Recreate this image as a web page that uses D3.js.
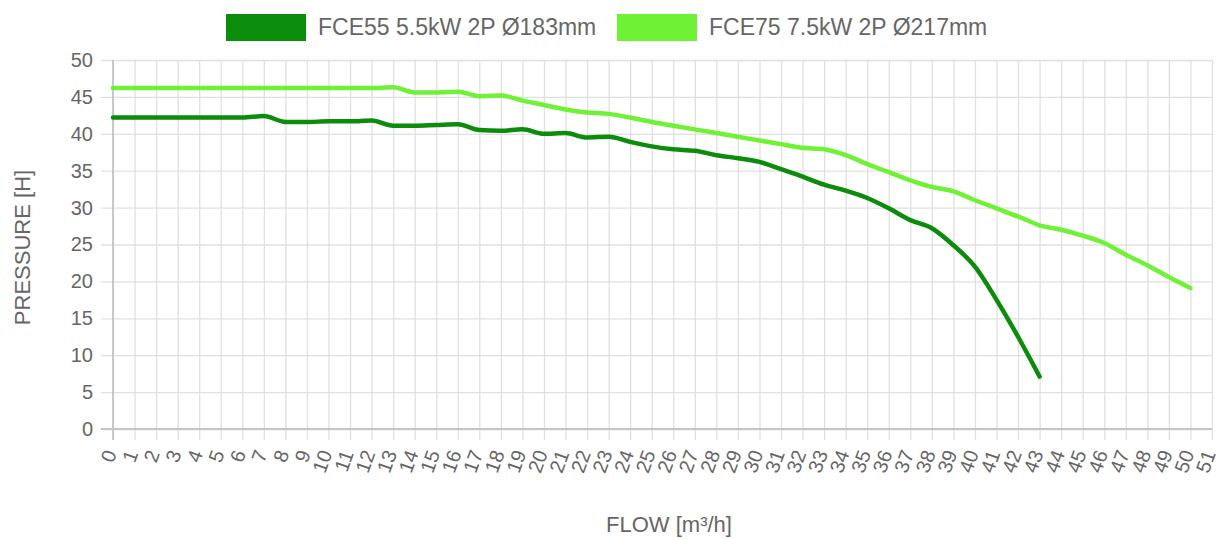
<!DOCTYPE html>
<html lang="en">
<head>
	<meta charset="UTF-8">
	<title>pump curves</title>
	<script src="https://d3js.org/d3.v7.min.js"></script>
	<style>
		body {
			margin: 0;
			background: #fff;
		}
		svg {
			font-family: "Liberation Sans", Arial, sans-serif;
		}
		.grid line {
			stroke: #e0e0e0;
			stroke-width: 1.3;
		}
		.grid text {
			fill: #666;
			font-size: 20px;
		}
		.axisline {
			stroke: #c4c4c4;
			stroke-width: 1.8;
		}
		.title {
			fill: #666;
			font-size: 22px;
		}
		.legend text {
			fill: #666;
			font-size: 23px;
		}
	</style>
</head>
<body>
<div id="viz"></div>
<script>
	// x categories (flow, m3/h)
	var flowLabels = ["0","1","2","3","4","5","6","7","8","9","10","11","12","13","14","15","16","17","18","19","20",
		"21","22","23","24","25","26","27","28","29","30","31","32","33","34","35","36","37","38","39","40",
		"41","42","43","44","45","46","47","48","49","50","51"];

	var pressureTicks = [0, 5, 10, 15, 20, 25, 30, 35, 40, 45, 50];

	// FCE55 5.5kW 2P Ø183mm, flow 0..43
	var fce55 = [42.2, 42.2, 42.2, 42.2, 42.2, 42.2, 42.2, 42.4, 41.6, 41.6, 41.7, 41.7, 41.8, 41.1, 41.1, 41.2, 41.3,
		40.5, 40.4, 40.6, 40.0, 40.1, 39.5, 39.6, 38.9, 38.3, 37.9, 37.7, 37.1, 36.7, 36.2, 35.2, 34.2, 33.1, 32.3,
		31.3, 29.9, 28.3, 27.2, 24.9, 22.0, 17.5, 12.5, 7.1];

	// FCE75 7.5kW 2P Ø217mm, flow 0..50
	var fce75 = [46.2, 46.2, 46.2, 46.2, 46.2, 46.2, 46.2, 46.2, 46.2, 46.2, 46.2, 46.2, 46.2, 46.3, 45.6, 45.6, 45.7,
		45.1, 45.2, 44.5, 43.9, 43.3, 42.9, 42.7, 42.2, 41.6, 41.1, 40.6, 40.1, 39.6, 39.1, 38.6, 38.1, 37.9, 37.1,
		35.9, 34.8, 33.7, 32.8, 32.2, 31.0, 29.9, 28.8, 27.6, 27.0, 26.2, 25.2, 23.6, 22.2, 20.6, 19.1];

	var seriesNames = ["FCE55 5.5kW 2P Ø183mm", "FCE75 7.5kW 2P Ø217mm"];
	var seriesColors = ["#0b8c0b", "#6ff236"];

	var W = 1220, H = 539;
	var plotLeft = 113, plotRight = 1212, plotTop = 60, plotBottom = 429;

	var svg = d3.select('#viz').append('svg')
		.attr('width', W)
		.attr('height', H);

	var x = d3.scalePoint()
		.domain(flowLabels)
		.range([plotLeft, plotRight]);

	var y = d3.scaleLinear()
		.domain([0, 50])
		.range([plotBottom, plotTop]);

	// y grid + labels
	var yAxis = svg.append('g')
		.attr('class', 'grid')
		.attr('transform', 'translate(' + (plotLeft - 12) + ',0)')
		.call(d3.axisLeft(y)
			.tickValues(pressureTicks)
			.tickSize(-(plotRight - plotLeft + 12))
			.tickPadding(8));
	yAxis.select('.domain').remove();

	// x grid + labels
	var xAxis = svg.append('g')
		.attr('class', 'grid')
		.attr('transform', 'translate(0,' + (plotBottom + 11) + ')')
		.call(d3.axisBottom(x)
			.tickSize(-(plotBottom + 11 - plotTop)));
	xAxis.select('.domain').remove();
	xAxis.selectAll('text')
		.attr('x', 0)
		.attr('y', 0)
		.attr('dy', '0.35em')
		.attr('text-anchor', 'end')
		.attr('transform', 'translate(-3,11) rotate(-70)');

	// axis lines
	svg.append('line')
		.attr('class', 'axisline')
		.attr('x1', plotLeft).attr('x2', plotLeft)
		.attr('y1', plotTop).attr('y2', plotBottom + 11);
	svg.append('line')
		.attr('class', 'axisline')
		.attr('x1', plotLeft - 12).attr('x2', plotRight)
		.attr('y1', y(0)).attr('y2', y(0));

	// curves
	var line = d3.line()
		.x(function (d, i) { return x(flowLabels[i]); })
		.y(function (d) { return y(d); })
		.curve(d3.curveMonotoneX);

	[fce55, fce75].forEach(function (s, i) {
		svg.append('path')
			.datum(s)
			.attr('fill', 'none')
			.attr('stroke', seriesColors[i])
			.attr('stroke-width', 4.5)
			.attr('stroke-linejoin', 'round')
			.attr('stroke-linecap', 'round')
			.attr('d', line);
	});

	// axis titles
	svg.append('text')
		.attr('class', 'title')
		.attr('transform', 'translate(30,' + ((plotTop + plotBottom) / 2 + 3) + ') rotate(-90)')
		.attr('text-anchor', 'middle')
		.text('PRESSURE [H]');

	svg.append('text')
		.attr('class', 'title')
		.attr('x', 669)
		.attr('y', 532)
		.attr('text-anchor', 'middle')
		.text('FLOW [m³/h]');

	// legend
	var legend = svg.append('g').attr('class', 'legend');
	var legendX = [226, 617];
	seriesNames.forEach(function (name, i) {
		legend.append('rect')
			.attr('x', legendX[i])
			.attr('y', 14)
			.attr('width', 80)
			.attr('height', 27)
			.attr('fill', seriesColors[i]);
		legend.append('text')
			.attr('x', legendX[i] + 92)
			.attr('y', 35)
			.text(name);
	});
</script>
</body>
</html>
